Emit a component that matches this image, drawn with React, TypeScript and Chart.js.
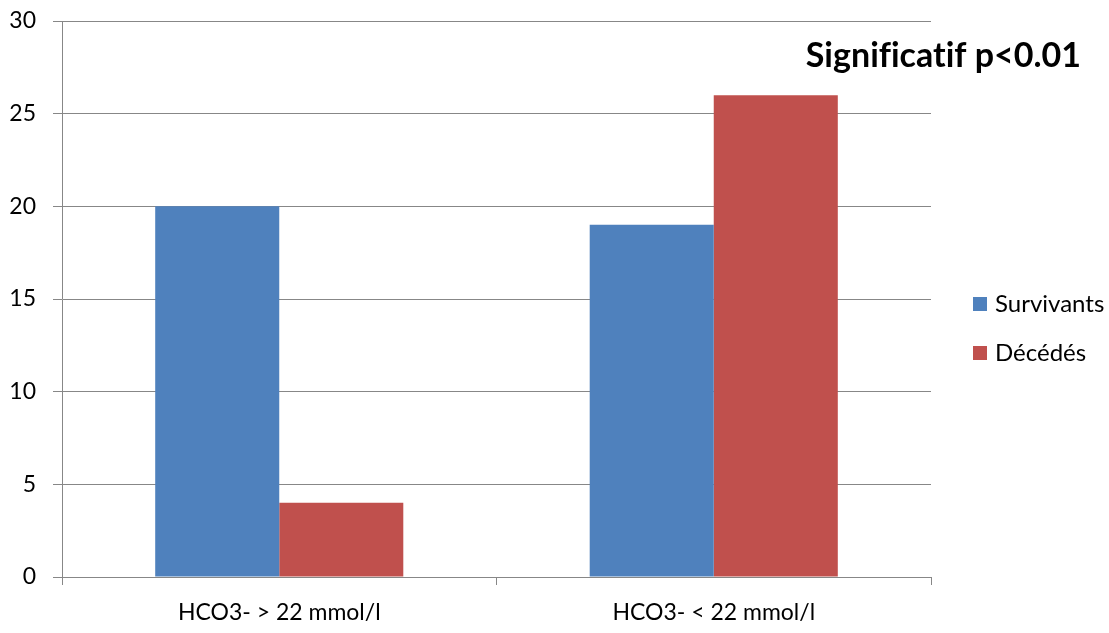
import React, { useEffect, useRef } from 'react';
import { Chart, registerables } from 'chart.js';

Chart.register(...registerables);

const categories = ['HCO3- > 22 mmol/l', 'HCO3- < 22 mmol/l'];
const seriesNames = ['Survivants', 'Décédés'];
const survivants = [20, 19];
const decedes = [4, 26];
const seriesColors = ['#4F81BD', '#C0504D'];
const yMin = 0;
const yMax = 30;
const yStep = 5;
const annotationText = 'Significatif p<0.01';

const FONT = 'Lato, "Open Sans", sans-serif';
const GRID = '#878787';

const overlayPlugin = {
  id: 'overlay',
  afterDraw(chart: any) {
    const { ctx, chartArea } = chart;
    ctx.save();
    try { (ctx as any).textRendering = 'optimizeSpeed'; } catch (e) {}
    // annotation
    ctx.fillStyle = '#000';
    ctx.font = `bold 34px ${FONT}`;
    ctx.textAlign = 'right';
    ctx.textBaseline = 'alphabetic';
    ctx.fillText(annotationText, chartArea.right + 150, chartArea.top + 46);
    // legend
    ctx.font = `24px ${FONT}`;
    ctx.textAlign = 'left';
    ctx.textBaseline = 'middle';
    const centers = [chartArea.top + 283, chartArea.top + 332];
    seriesNames.forEach((name, i) => {
      ctx.fillStyle = seriesColors[i];
      ctx.fillRect(chartArea.right + 42, centers[i] - 7, 14, 14);
      ctx.fillStyle = '#000';
      ctx.fillText(name, chartArea.right + 64, centers[i]);
    });
    ctx.restore();
  },
};

export default function App() {
  const ref = useRef<HTMLCanvasElement>(null);
  useEffect(() => {
    if (!ref.current) return;
    const chart = new Chart(ref.current, {
      type: 'bar',
      data: {
        labels: categories,
        datasets: [
          { label: seriesNames[0], data: survivants, backgroundColor: seriesColors[0], borderWidth: 0 },
          { label: seriesNames[1], data: decedes, backgroundColor: seriesColors[1], borderWidth: 0 },
        ],
      },
      options: {
        responsive: false,
        animation: false,
        devicePixelRatio: 1,
        layout: { padding: { left: 0, top: 21, right: 178, bottom: 0 } },
        plugins: { legend: { display: false }, tooltip: { enabled: false } },
        datasets: { bar: { categoryPercentage: 0.571, barPercentage: 1 } },
        scales: {
          x: {
            afterFit: (s: any) => { s.height = 56; s.paddingLeft = 0; s.paddingRight = 0; },
            grid: { display: true, drawOnChartArea: false, drawTicks: true, tickLength: 8, color: GRID, offset: true },
            border: { display: true, color: GRID },
            ticks: { color: '#000', font: { family: FONT, size: 23 }, padding: 14 },
          },
          y: {
            min: yMin,
            max: yMax,
            afterFit: (s: any) => { s.width = 62; s.paddingTop = 0; s.paddingBottom = 0; },
            grid: { color: GRID, tickLength: 9, drawTicks: true },
            border: { display: true, color: GRID },
            ticks: { stepSize: yStep, color: '#000', font: { family: FONT, size: 23 }, padding: 17 },
          },
        },
      },
      plugins: [overlayPlugin],
    });
    if ((document as any).fonts?.ready) {
      (document as any).fonts.load(`24px Lato`).then(() => chart.update()).catch(() => {});
      (document as any).fonts.load(`bold 34px Lato`).then(() => chart.update()).catch(() => {});
    }
    return () => chart.destroy();
  }, []);
  return (
    <div style={{ position: 'absolute', left: 0, top: 0, width: 1109, height: 633, background: '#fff' }}>
      <canvas ref={ref} width={1109} height={633} style={{ width: 1109, height: 633 }} />
    </div>
  );
}
